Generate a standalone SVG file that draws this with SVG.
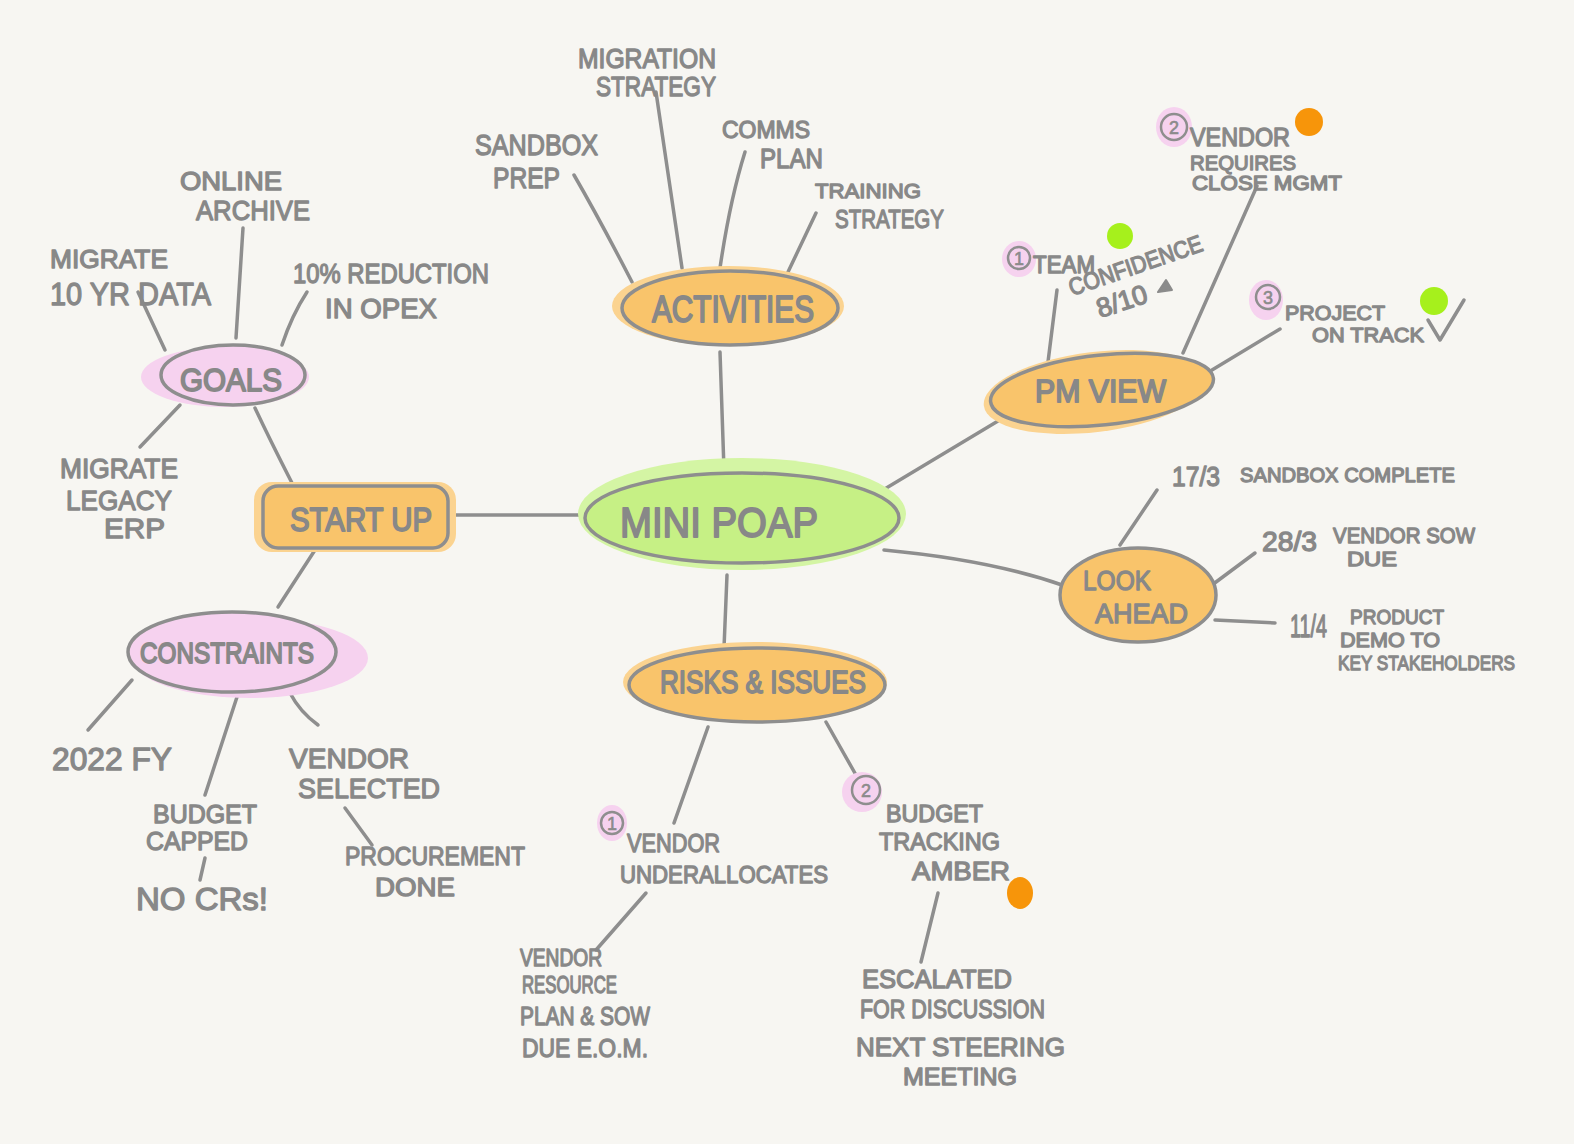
<svg xmlns="http://www.w3.org/2000/svg" width="1574" height="1144" viewBox="0 0 1574 1144">
<style>
.t{font-family:"Liberation Sans",Arial,sans-serif;fill:#888888;stroke:#888888;stroke-width:1.3;stroke-linejoin:round;font-size:24px;}
.big{font-size:36px;stroke-width:1.8;}
.ln{stroke:#8e8e8e;stroke-width:3.5;fill:none;stroke-linecap:round;stroke-linejoin:round;}
.ol{stroke:#8e8e8e;stroke-width:3.5;}
.or{fill:#f9c46b;}
.orh{fill:#fbd390;}
.pk{fill:#f6d2ef;}
.gr{fill:#c6f085;}
.grh{fill:#d4f5a4;}
.num{fill:none;stroke:#8e8e8e;stroke-width:2.5;}
.nt{font-family:"Liberation Sans",Arial,sans-serif;fill:#8b8b8b;stroke:#8b8b8b;stroke-width:0.6;font-size:18px;text-anchor:middle;}
</style>
<rect width="1574" height="1144" fill="#f7f6f2"/>

<g id="connectors">
<path class="ln" d="M448 515 L585 515"/>
<path class="ln" d="M292 483 Q270 440 255 408"/>
<path class="ln" d="M315 550 L278 607"/>
<path class="ln" d="M720 352 L724 470"/>
<path class="ln" d="M727 575 L724 648"/>
<path class="ln" d="M878 493 Q950 450 1008 415"/>
<path class="ln" d="M884 550 Q990 560 1062 585"/>
<path class="ln" d="M165 350 L138 292"/>
<path class="ln" d="M236 338 L243 228"/>
<path class="ln" d="M282 345 Q292 315 307 292"/>
<path class="ln" d="M180 405 L140 447"/>
<path class="ln" d="M132 680 L88 730"/>
<path class="ln" d="M237 697 L205 795"/>
<path class="ln" d="M290 693 Q300 712 318 725"/>
<path class="ln" d="M345 808 L372 845"/>
<path class="ln" d="M205 858 L200 880"/>
<path class="ln" d="M632 282 Q600 220 574 175"/>
<path class="ln" d="M682 268 L656 92"/>
<path class="ln" d="M720 268 Q730 200 745 152"/>
<path class="ln" d="M788 272 L816 213"/>
<path class="ln" d="M1048 362 L1057 290"/>
<path class="ln" d="M1183 353 L1257 186"/>
<path class="ln" d="M1212 370 L1280 329"/>
<path class="ln" d="M1120 545 L1157 490"/>
<path class="ln" d="M1212 585 L1255 553"/>
<path class="ln" d="M1215 620 L1275 623"/>
<path class="ln" d="M708 727 L674 823"/>
<path class="ln" d="M826 722 L856 775"/>
<path class="ln" d="M646 893 L596 950"/>
<path class="ln" d="M938 893 L921 962"/>
</g>

<g id="mini-poap">
<ellipse class="grh" cx="742" cy="514" rx="164" ry="56"/>
<ellipse class="gr ol" cx="742" cy="518" rx="157" ry="45"/>
<text class="t big" x="620" y="537" textLength="198" lengthAdjust="spacingAndGlyphs" style="font-size:42px">MINI POAP</text>
</g>

<g id="activities">
<ellipse class="orh" cx="728" cy="306" rx="116" ry="40"/>
<ellipse class="or ol" cx="730" cy="308" rx="108" ry="37"/>
<text class="t big" x="652" y="322" textLength="162" lengthAdjust="spacingAndGlyphs">ACTIVITIES</text>
</g>

<g id="pm-view">
<ellipse class="orh" cx="1095" cy="392" rx="112" ry="40" transform="rotate(-7 1095 392)"/>
<ellipse class="or ol" cx="1102" cy="390" rx="112" ry="35" transform="rotate(-6 1102 390)"/>
<text class="t big" x="1035" y="402" textLength="131" lengthAdjust="spacingAndGlyphs" style="font-size:32px">PM VIEW</text>
</g>

<g id="look-ahead">
<ellipse class="or ol" cx="1138" cy="595" rx="78" ry="47"/>
<text class="t" x="1083" y="590" textLength="68" lengthAdjust="spacingAndGlyphs" style="font-size:28px">LOOK</text>
<text class="t" x="1095" y="623" textLength="93" lengthAdjust="spacingAndGlyphs" style="font-size:28px">AHEAD</text>
</g>

<g id="risks-issues">
<ellipse class="orh" cx="755" cy="682" rx="132" ry="40"/>
<ellipse class="or ol" cx="757" cy="685" rx="128" ry="37"/>
<text class="t big" x="660" y="693" textLength="206" lengthAdjust="spacingAndGlyphs" style="font-size:32px">RISKS &amp; ISSUES</text>
</g>

<g id="start-up">
<rect class="orh" x="254" y="482" width="202" height="70" rx="18"/>
<rect class="or ol" x="263" y="486" width="185" height="62" rx="15"/>
<text class="t big" x="290" y="531" textLength="142" lengthAdjust="spacingAndGlyphs" style="font-size:34px">START UP</text>
</g>

<g id="goals">
<ellipse class="pk" cx="225" cy="377" rx="84" ry="30"/>
<ellipse class="pk ol" cx="233" cy="375" rx="72" ry="30"/>
<text class="t big" x="180" y="391" textLength="102" lengthAdjust="spacingAndGlyphs" style="font-size:32px">GOALS</text>
</g>

<g id="constraints">
<ellipse class="pk" cx="250" cy="658" rx="118" ry="40"/>
<ellipse class="pk ol" cx="232" cy="652" rx="104" ry="40"/>
<text class="t big" x="140" y="663" textLength="174" lengthAdjust="spacingAndGlyphs" style="font-size:30px">CONSTRAINTS</text>
</g>

<g id="activities-items">
<text class="t" x="578" y="68" textLength="138" lengthAdjust="spacingAndGlyphs" style="font-size:27px">MIGRATION</text>
<text class="t" x="596" y="96" textLength="120" lengthAdjust="spacingAndGlyphs" style="font-size:27px">STRATEGY</text>
<text class="t" x="475" y="155" textLength="123" lengthAdjust="spacingAndGlyphs" style="font-size:29px">SANDBOX</text>
<text class="t" x="493" y="188" textLength="67" lengthAdjust="spacingAndGlyphs" style="font-size:29px">PREP</text>
<text class="t" x="722" y="138" textLength="88" lengthAdjust="spacingAndGlyphs" style="font-size:24px">COMMS</text>
<text class="t" x="760" y="168" textLength="63" lengthAdjust="spacingAndGlyphs" style="font-size:27px">PLAN</text>
<text class="t" x="815" y="198" textLength="106" lengthAdjust="spacingAndGlyphs" style="font-size:21px">TRAINING</text>
<text class="t" x="835" y="228" textLength="109" lengthAdjust="spacingAndGlyphs" style="font-size:25px">STRATEGY</text>
</g>

<g id="goals-items">
<text class="t" x="180" y="190" textLength="102" lengthAdjust="spacingAndGlyphs" style="font-size:26px">ONLINE</text>
<text class="t" x="196" y="220" textLength="114" lengthAdjust="spacingAndGlyphs" style="font-size:28px">ARCHIVE</text>
<text class="t" x="50" y="268" textLength="118" lengthAdjust="spacingAndGlyphs" style="font-size:26px">MIGRATE</text>
<text class="t" x="50" y="305" textLength="161" lengthAdjust="spacingAndGlyphs" style="font-size:32px">10 YR DATA</text>
<text class="t" x="293" y="283" textLength="196" lengthAdjust="spacingAndGlyphs" style="font-size:27px">10% REDUCTION</text>
<text class="t" x="325" y="318" textLength="112" lengthAdjust="spacingAndGlyphs" style="font-size:27px">IN OPEX</text>
<text class="t" x="60" y="478" textLength="118" lengthAdjust="spacingAndGlyphs" style="font-size:27px">MIGRATE</text>
<text class="t" x="66" y="510" textLength="106" lengthAdjust="spacingAndGlyphs" style="font-size:28px">LEGACY</text>
<text class="t" x="104" y="538" textLength="61" lengthAdjust="spacingAndGlyphs" style="font-size:28px">ERP</text>
</g>

<g id="constraints-items">
<text class="t" x="52" y="770" textLength="120" lengthAdjust="spacingAndGlyphs" style="font-size:31px">2022 FY</text>
<text class="t" x="153" y="823" textLength="104" lengthAdjust="spacingAndGlyphs" style="font-size:26px">BUDGET</text>
<text class="t" x="146" y="850" textLength="102" lengthAdjust="spacingAndGlyphs" style="font-size:26px">CAPPED</text>
<text class="t" x="136" y="910" textLength="132" lengthAdjust="spacingAndGlyphs" style="font-size:32px">NO CRs!</text>
<text class="t" x="289" y="768" textLength="120" lengthAdjust="spacingAndGlyphs" style="font-size:28px">VENDOR</text>
<text class="t" x="298" y="798" textLength="142" lengthAdjust="spacingAndGlyphs" style="font-size:28px">SELECTED</text>
<text class="t" x="345" y="865" textLength="180" lengthAdjust="spacingAndGlyphs" style="font-size:26px">PROCUREMENT</text>
<text class="t" x="375" y="896" textLength="80" lengthAdjust="spacingAndGlyphs" style="font-size:26px">DONE</text>
</g>

<g id="pm-view-items">
<ellipse class="pk" cx="1019" cy="259" rx="17" ry="18"/>
<circle class="num" cx="1019" cy="258" r="11"/>
<text class="nt" x="1019" y="265">1</text>
<text class="t" x="1033" y="273" textLength="62" lengthAdjust="spacingAndGlyphs" style="font-size:23px">TEAM</text>
<text class="t" x="1072" y="296" textLength="140" lengthAdjust="spacingAndGlyphs" style="font-size:24px" transform="rotate(-19 1072 296)">CONFIDENCE</text>
<text class="t" x="1100" y="318" textLength="52" lengthAdjust="spacingAndGlyphs" style="font-size:27px" transform="rotate(-18 1100 318)">8/10</text>
<path d="M1158 292 L1166 280 L1172 290 Z" fill="#8b8b8b" stroke="#8b8b8b" stroke-width="2" stroke-linejoin="round"/>
<circle cx="1120" cy="236" r="13" fill="#a6f01c"/>
<ellipse class="pk" cx="1174" cy="127" rx="18" ry="20"/>
<circle class="num" cx="1174" cy="127" r="13"/>
<text class="nt" x="1174" y="134">2</text>
<text class="t" x="1190" y="146" textLength="100" lengthAdjust="spacingAndGlyphs" style="font-size:25px">VENDOR</text>
<text class="t" x="1190" y="170" textLength="106" lengthAdjust="spacingAndGlyphs" style="font-size:21px">REQUIRES</text>
<text class="t" x="1192" y="190" textLength="150" lengthAdjust="spacingAndGlyphs" style="font-size:20px">CLOSE MGMT</text>
<circle cx="1309" cy="122" r="14" fill="#f7950a"/>
<ellipse class="pk" cx="1266" cy="300" rx="17" ry="20"/>
<circle class="num" cx="1268" cy="297" r="12"/>
<text class="nt" x="1268" y="304">3</text>
<text class="t" x="1285" y="320" textLength="100" lengthAdjust="spacingAndGlyphs" style="font-size:21px">PROJECT</text>
<text class="t" x="1312" y="342" textLength="112" lengthAdjust="spacingAndGlyphs" style="font-size:21px">ON TRACK</text>
<path class="ln" d="M1428 320 L1440 340 L1464 300"/>
<circle cx="1434" cy="301" r="14" fill="#a6f01c"/>
</g>

<g id="look-ahead-items">
<text class="t" x="1172" y="486" textLength="48" lengthAdjust="spacingAndGlyphs" style="font-size:28px">17/3</text>
<text class="t" x="1240" y="482" textLength="215" lengthAdjust="spacingAndGlyphs" style="font-size:20px">SANDBOX COMPLETE</text>
<text class="t" x="1262" y="551" textLength="55" lengthAdjust="spacingAndGlyphs" style="font-size:28px">28/3</text>
<text class="t" x="1333" y="543" textLength="142" lengthAdjust="spacingAndGlyphs" style="font-size:22px">VENDOR SOW</text>
<text class="t" x="1347" y="566" textLength="50" lengthAdjust="spacingAndGlyphs" style="font-size:21px">DUE</text>
<text class="t" x="1290" y="637" textLength="37" lengthAdjust="spacingAndGlyphs" style="font-size:32px">11/4</text>
<text class="t" x="1350" y="624" textLength="94" lengthAdjust="spacingAndGlyphs" style="font-size:21px">PRODUCT</text>
<text class="t" x="1340" y="647" textLength="100" lengthAdjust="spacingAndGlyphs" style="font-size:21px">DEMO TO</text>
<text class="t" x="1338" y="670" textLength="177" lengthAdjust="spacingAndGlyphs" style="font-size:21px">KEY STAKEHOLDERS</text>
</g>

<g id="risks-items">
<ellipse class="pk" cx="612" cy="823" rx="15" ry="18"/>
<circle class="num" cx="612" cy="823" r="11"/>
<text class="nt" x="612" y="830">1</text>
<text class="t" x="627" y="852" textLength="93" lengthAdjust="spacingAndGlyphs" style="font-size:26px">VENDOR</text>
<text class="t" x="620" y="883" textLength="208" lengthAdjust="spacingAndGlyphs" style="font-size:24px">UNDERALLOCATES</text>
<ellipse class="pk" cx="862" cy="792" rx="20" ry="20"/>
<circle class="num" cx="866" cy="790" r="14"/>
<text class="nt" x="866" y="797">2</text>
<text class="t" x="886" y="822" textLength="97" lengthAdjust="spacingAndGlyphs" style="font-size:24px">BUDGET</text>
<text class="t" x="879" y="850" textLength="121" lengthAdjust="spacingAndGlyphs" style="font-size:24px">TRACKING</text>
<text class="t" x="912" y="880" textLength="98" lengthAdjust="spacingAndGlyphs" style="font-size:26px">AMBER</text>
<ellipse cx="1020" cy="893" rx="13" ry="16" fill="#f7950a"/>
<text class="t" x="520" y="966" textLength="82" lengthAdjust="spacingAndGlyphs" style="font-size:23px">VENDOR</text>
<text class="t" x="522" y="993" textLength="95" lengthAdjust="spacingAndGlyphs" style="font-size:23px">RESOURCE</text>
<text class="t" x="520" y="1025" textLength="130" lengthAdjust="spacingAndGlyphs" style="font-size:26px">PLAN &amp; SOW</text>
<text class="t" x="522" y="1057" textLength="126" lengthAdjust="spacingAndGlyphs" style="font-size:26px">DUE E.O.M.</text>
<text class="t" x="862" y="988" textLength="150" lengthAdjust="spacingAndGlyphs" style="font-size:26px">ESCALATED</text>
<text class="t" x="860" y="1018" textLength="185" lengthAdjust="spacingAndGlyphs" style="font-size:26px">FOR DISCUSSION</text>
<text class="t" x="856" y="1056" textLength="209" lengthAdjust="spacingAndGlyphs" style="font-size:26px">NEXT STEERING</text>
<text class="t" x="903" y="1085" textLength="114" lengthAdjust="spacingAndGlyphs" style="font-size:24px">MEETING</text>
</g>
</svg>
